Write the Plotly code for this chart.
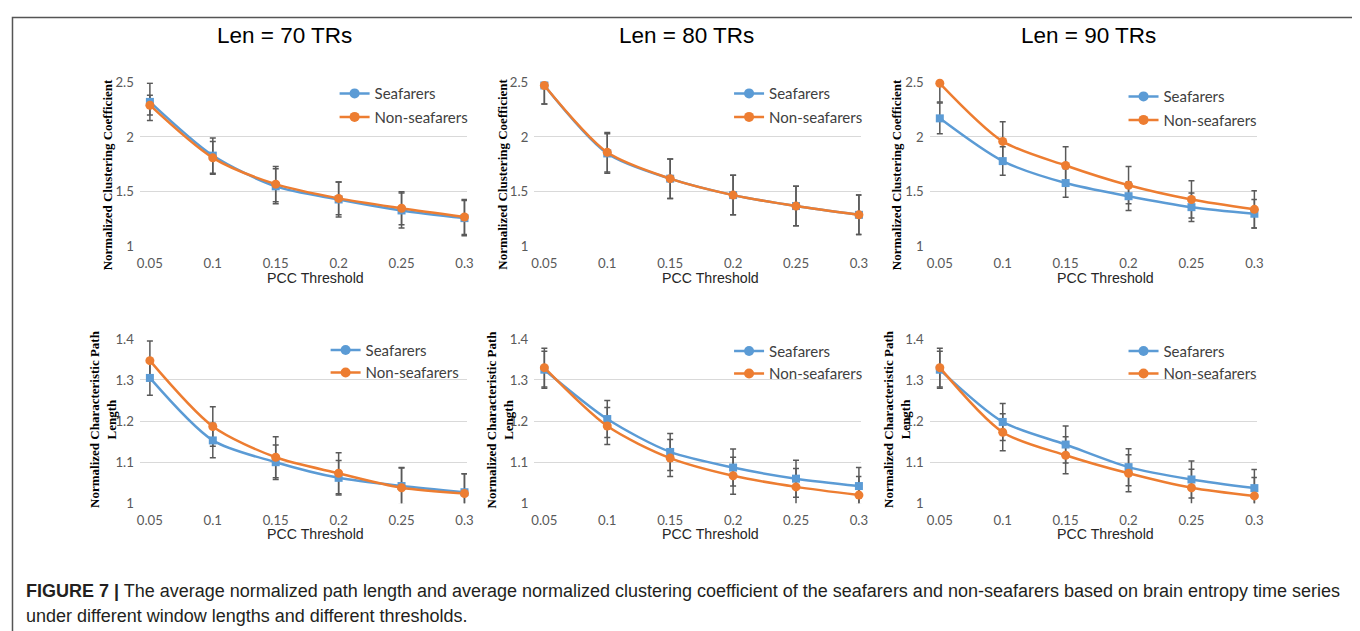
import plotly.graph_objects as go

# ---------------- data ----------------
thresholds = [0.05, 0.1, 0.15, 0.2, 0.25, 0.3]
tick_labels = ["0.05", "0.1", "0.15", "0.2", "0.25", "0.3"]
col_titles = ["Len = 70 TRs", "Len = 80 TRs", "Len = 90 TRs"]
series_names = ["Seafarers", "Non-seafarers"]

# Normalized clustering coefficient (top row)
cc_sea_70 = [2.32, 1.83, 1.55, 1.43, 1.33, 1.26]
cc_sea_70_err = [0.17, 0.16, 0.16, 0.16, 0.16, 0.16]
cc_non_70 = [2.29, 1.81, 1.57, 1.44, 1.35, 1.27]
cc_non_70_err = [0.09, 0.15, 0.16, 0.15, 0.15, 0.16]

cc_sea_80 = [2.47, 1.85, 1.62, 1.47, 1.37, 1.29]
cc_sea_80_err = [0.17, 0.18, 0.18, 0.18, 0.18, 0.18]
cc_non_80 = [2.47, 1.86, 1.62, 1.47, 1.37, 1.29]
cc_non_80_err = [0.17, 0.18, 0.18, 0.18, 0.18, 0.18]

cc_sea_90 = [2.17, 1.78, 1.58, 1.46, 1.36, 1.30]
cc_sea_90_err = [0.14, 0.13, 0.13, 0.13, 0.13, 0.13]
cc_non_90 = [2.49, 1.96, 1.74, 1.56, 1.43, 1.34]
cc_non_90_err = [0.17, 0.18, 0.17, 0.17, 0.17, 0.17]

# Normalized characteristic path length (bottom row)
pl_sea_70 = [1.305, 1.153, 1.100, 1.062, 1.042, 1.027]
pl_sea_70_err = [0.042, 0.042, 0.042, 0.042, 0.045, 0.045]
pl_non_70 = [1.347, 1.187, 1.112, 1.073, 1.038, 1.024]
pl_non_70_err = [0.048, 0.048, 0.050, 0.050, 0.048, 0.048]

pl_sea_80 = [1.325, 1.205, 1.125, 1.087, 1.060, 1.042]
pl_sea_80_err = [0.045, 0.045, 0.045, 0.045, 0.045, 0.045]
pl_non_80 = [1.330, 1.188, 1.110, 1.067, 1.040, 1.020]
pl_non_80_err = [0.047, 0.045, 0.045, 0.045, 0.045, 0.045]

pl_sea_90 = [1.325, 1.198, 1.143, 1.088, 1.058, 1.037]
pl_sea_90_err = [0.045, 0.045, 0.045, 0.045, 0.045, 0.045]
pl_non_90 = [1.330, 1.173, 1.117, 1.073, 1.038, 1.018]
pl_non_90_err = [0.047, 0.045, 0.045, 0.045, 0.045, 0.045]

panels = [
    (cc_sea_70, cc_sea_70_err, cc_non_70, cc_non_70_err),
    (cc_sea_80, cc_sea_80_err, cc_non_80, cc_non_80_err),
    (cc_sea_90, cc_sea_90_err, cc_non_90, cc_non_90_err),
    (pl_sea_70, pl_sea_70_err, pl_non_70, pl_non_70_err),
    (pl_sea_80, pl_sea_80_err, pl_non_80, pl_non_80_err),
    (pl_sea_90, pl_sea_90_err, pl_non_90, pl_non_90_err),
]

row_ytitles = ["Normalized Clustering Coefficient",
               "Normalized Characteristic Path<br>Length"]
row_yranges = [[1, 2.5], [1, 1.4]]
row_dtick = [0.5, 0.1]

caption_line1 = ("<b>FIGURE 7 |</b> The average normalized path length and average normalized "
                 "clustering coefficient of the seafarers and non-seafarers based on brain entropy time series")
caption_line2 = "under different window lengths and different thresholds."

# ---------------- styling / layout ----------------
W, H = 1360, 631
# measured mapping between figure pixels and the photographed page
AX, BX = 0.994, 11.0
AY, BY = 0.972, 16.0
BLUE = "#5B9BD5"
ORANGE = "#ED7D31"
ERR = "#595959"
GRID = "#D9D9D9"
TICK = "#595959"


def ix(p):
    return (p - BX) / AX


def iy(p):
    return (p - BY) / AY


def fx(p):
    return ix(p) / W


def fy(p):
    return 1 - iy(p) / H


col_left = [140, 535, 931]
col_width = 327.6
row_top = [82, 338]
row_bot = [246, 502]

fig = go.Figure()
layout = dict(
    width=W, height=H,
    margin=dict(l=0, r=0, t=0, b=0),
    paper_bgcolor="white", plot_bgcolor="white",
    showlegend=True,
    annotations=[], shapes=[],
)

ytitle_x = [[108, 503, 898], [103, 501, 898]]
ytitle_y = [174, 418]
xtitle_x = [316, 711, 1107]
xtitle_y = [277, 533]
legend_text_x = [[375, 770, 1165], [366, 770, 1165]]
legend_row1_y = [[93, 93, 96], [349, 350, 350]]
legend_gap = [1, 0]

for i, (sea, sea_e, non, non_e) in enumerate(panels):
    r, c = divmod(i, 3)
    suffix = "" if i == 0 else str(i + 1)
    xa, ya = "x" + suffix, "y" + suffix
    leg = "legend" + suffix

    layout["xaxis" + suffix] = dict(
        domain=[fx(col_left[c]), fx(col_left[c] + col_width)], anchor=ya,
        range=[0.042, 0.302],
        tickmode="array", tickvals=thresholds, ticktext=tick_labels,
        showgrid=False, zeroline=False, showline=False, ticks="",
        tickfont=dict(family="Lato", size=13.2, color=TICK),
        ticklabelstandoff=7,
    )
    layout["yaxis" + suffix] = dict(
        domain=[fy(row_bot[r]), fy(row_top[r])], anchor=xa,
        range=row_yranges[r], dtick=row_dtick[r], tick0=1,
        showgrid=True, gridcolor=GRID, gridwidth=1,
        zeroline=False, showline=False, ticks="",
        tickfont=dict(family="Lato", size=13.2, color=TICK),
        ticklabelstandoff=5,
    )

    specs = [
        (series_names[0], sea, sea_e, BLUE, "square", 8),
        (series_names[1], non, non_e, ORANGE, "circle", 9),
    ]
    for name, vals, errs, color, sym, msize in specs:
        # error bars (clipped to plot area)
        fig.add_trace(go.Scatter(
            x=thresholds, y=vals, xaxis=xa, yaxis=ya, mode="markers",
            marker=dict(size=1, opacity=0),
            error_y=dict(type="data", array=errs, visible=True,
                         color=ERR, thickness=1.5, width=3),
            showlegend=False, hoverinfo="skip", cliponaxis=True,
        ))
    for name, vals, errs, color, sym, msize in specs:
        fig.add_trace(go.Scatter(
            x=thresholds, y=vals, xaxis=xa, yaxis=ya, mode="lines+markers",
            line=dict(color=color, width=2.5, shape="spline", smoothing=0.8),
            marker=dict(color=color, size=msize, symbol=sym),
            showlegend=False, cliponaxis=False, name=name,
        ))
        # legend entry
        fig.add_trace(go.Scatter(
            x=[None], y=[None], xaxis=xa, yaxis=ya, mode="lines+markers",
            line=dict(color=color, width=2.5),
            marker=dict(color=color, size=10, symbol="circle"),
            name=name, legend=leg, legendgroup=f"{name}{i}", showlegend=True,
        ))

    layout[leg] = dict(
        x=(ix(legend_text_x[r][c]) - 40.2) / W, xanchor="left",
        y=1 - (iy(legend_row1_y[r][c]) - 16.5) / H, yanchor="top",
        bgcolor="rgba(0,0,0,0)", borderwidth=0,
        font=dict(family="Lato", size=15, color="#404040"),
        traceorder="grouped", tracegroupgap=legend_gap[r],
        itemwidth=30,
    )

    layout["annotations"].append(dict(
        text="<b>" + row_ytitles[r].replace("<br>", "</b><br><b>") + "</b>",
        x=fx(ytitle_x[r][c]), y=fy(ytitle_y[r]),
        xref="paper", yref="paper", showarrow=False, textangle=-90,
        xanchor="center", yanchor="middle",
        font=dict(family="Liberation Serif", size=13, color="black"),
    ))
    layout["annotations"].append(dict(
        text="PCC Threshold", x=fx(xtitle_x[c]), y=fy(xtitle_y[r]),
        xref="paper", yref="paper", showarrow=False,
        xanchor="center", yanchor="middle",
        font=dict(family="Liberation Sans", size=14.2, color="#262626"),
    ))

for c, t in enumerate(col_titles):
    layout["annotations"].append(dict(
        text=t, x=fx([285, 687, 1090][c]), y=fy(35), xref="paper", yref="paper",
        showarrow=False, xanchor="center", yanchor="middle",
        font=dict(family="Liberation Sans", size=22.5, color="black"),
    ))

layout["annotations"].append(dict(
    text=caption_line1, x=fx(24), y=fy(589), xref="paper", yref="paper",
    showarrow=False, xanchor="left", yanchor="middle",
    font=dict(family="Liberation Sans", size=18, color="#231F20"),
))
layout["annotations"].append(dict(
    text=caption_line2, x=fx(24), y=fy(614), xref="paper", yref="paper",
    showarrow=False, xanchor="left", yanchor="middle",
    font=dict(family="Liberation Sans", size=18, color="#231F20"),
))

layout["shapes"].append(dict(
    type="rect", xref="paper", yref="paper",
    x0=1.5 / W, x1=fx(1355), y0=-0.05, y1=1 - 1.5 / H,
    line=dict(color="#555555", width=1.5), fillcolor="rgba(0,0,0,0)",
))

fig.update_layout(**layout)
fig.write_html("out.html")
